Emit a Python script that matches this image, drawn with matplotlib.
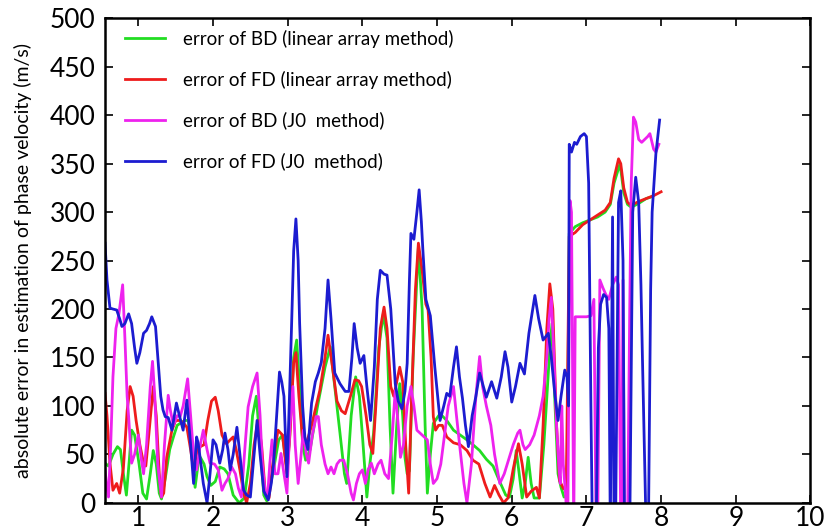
import matplotlib
matplotlib.use("Agg")
import matplotlib.pyplot as plt

plt.rcParams["font.family"] = ["Lato", "DejaVu Sans"]

# ── Data (x = frequency-ish axis, y = abs error m/s) ──
green_x = [0.554, 0.60, 0.66, 0.72, 0.76, 0.80, 0.84, 0.88, 0.91, 0.95, 1.01, 1.06, 1.11,
           1.16, 1.20, 1.24, 1.28, 1.31, 1.36, 1.42, 1.47, 1.52, 1.56, 1.62, 1.67, 1.72,
           1.76, 1.80, 1.83, 1.88, 1.92, 1.97, 2.03, 2.09, 2.15, 2.20, 2.27, 2.35, 2.42,
           2.48, 2.53, 2.58, 2.63, 2.68, 2.72, 2.80, 2.88, 2.93, 2.98, 3.02, 3.08, 3.12,
           3.16, 3.20, 3.24, 3.30, 3.40, 3.50, 3.57, 3.63, 3.70, 3.76, 3.79, 3.85, 3.91,
           3.96, 4.00, 4.06, 4.10, 4.15, 4.22, 4.28, 4.33, 4.37, 4.41, 4.46, 4.50, 4.54,
           4.57, 4.60, 4.63, 4.68, 4.75, 4.80, 4.84, 4.87, 4.91, 4.95, 5.04, 5.13, 5.22,
           5.31, 5.40, 5.48, 5.57, 5.66, 5.75, 5.85, 5.92, 5.97, 6.02, 6.06, 6.10, 6.14,
           6.18, 6.22, 6.26, 6.30, 6.37, 6.43, 6.47, 6.51, 6.54, 6.58, 6.62, 6.66, 6.70,
           6.74, 6.77, 6.85, 6.95, 7.05, 7.15, 7.25, 7.32, 7.37, 7.43, 7.45, 7.50, 7.55,
           7.60, 7.70, 7.80, 7.88]
green_y = [41, 38, 50, 58, 55, 30, 8, 45, 75, 70, 40, 10, 4,
           30, 54, 40, 10, 4, 25, 55, 68, 80, 82, 85, 85, 50,
           16, 40, 47, 40, 27, 18, 22, 37, 35, 30, 8, 0, 5,
           40, 90, 110, 60, 8, 2, 30, 65, 70, 40, 60, 150, 168,
           120, 60, 44, 55, 100, 140, 161, 120, 72, 30, 20, 90, 130,
           110, 70, 6, 40, 72, 160, 195, 170, 80, 10, 80, 123, 90,
           47, 30, 33, 150, 264, 200, 80, 10, 50, 82, 92, 85, 75,
           70, 65, 60, 54, 45, 38, 20, 8, 6, 25, 54, 30, 5,
           20, 47, 20, 5, 5, 60, 109, 160, 185, 100, 30, 16, 6,
           8, 278, 285, 289, 292, 295, 300, 308, 330, 345, 350, 320, 308,
           305, 309, 314, 316]

red_x = [0.554, 0.58, 0.62, 0.66, 0.71, 0.75, 0.80, 0.85, 0.89, 0.93, 0.97, 1.02, 1.07,
         1.10, 1.14, 1.20, 1.24, 1.28, 1.31, 1.34, 1.38, 1.45, 1.50, 1.56, 1.61, 1.65,
         1.70, 1.74, 1.79, 1.83, 1.88, 1.93, 1.98, 2.03, 2.07, 2.12, 2.18, 2.23, 2.27,
         2.31, 2.36, 2.41, 2.45, 2.50, 2.55, 2.60, 2.65, 2.70, 2.75, 2.80, 2.87, 2.93,
         2.99, 3.03, 3.08, 3.11, 3.15, 3.20, 3.24, 3.32, 3.43, 3.50, 3.54, 3.60, 3.66,
         3.72, 3.77, 3.84, 3.90, 3.95, 3.99, 4.05, 4.10, 4.14, 4.18, 4.24, 4.29, 4.33,
         4.38, 4.42, 4.46, 4.50, 4.54, 4.58, 4.62, 4.66, 4.71, 4.75, 4.80, 4.85, 4.88,
         4.92, 4.95, 4.98, 5.02, 5.07, 5.13, 5.22, 5.31, 5.40, 5.48, 5.56, 5.64, 5.71,
         5.77, 5.83, 5.89, 5.95, 6.02, 6.09, 6.14, 6.20, 6.26, 6.33, 6.37, 6.42, 6.47,
         6.51, 6.55, 6.60, 6.64, 6.69, 6.73, 6.77, 6.85, 6.95, 7.05, 7.15, 7.25, 7.32,
         7.37, 7.43, 7.46, 7.50, 7.55, 7.60, 7.70, 7.80, 7.90, 8.00]
red_y = [113, 90, 41, 13, 20, 10, 36, 95, 120, 110, 85, 60, 41,
         38, 70, 120, 90, 30, 6, 10, 47, 75, 85, 85, 82, 78,
         55, 34, 55, 58, 60, 85, 105, 109, 95, 70, 61, 65, 68,
         55, 34, 10, 0, 20, 60, 85, 60, 10, 5, 40, 75, 70,
         30, 70, 145, 155, 110, 65, 58, 80, 116, 150, 173, 140, 105,
         95, 92, 110, 127, 126, 120, 90, 60, 51, 100, 180, 202, 180,
         120, 110, 125, 140, 125, 60, 10, 110, 220, 268, 240, 205, 199,
         150, 89, 75, 80, 80, 68, 62, 60, 54, 44, 40, 20, 6,
         18, 8, 0, 5, 35, 61, 40, 6, 12, 16, 5, 80, 180,
         226, 200, 80, 23, 15, 13, 275, 279, 287, 292, 297, 302, 310,
         335, 355, 350, 325, 310, 307, 311, 314, 317, 321]

magenta_x = [0.554, 0.58, 0.60, 0.63, 0.66, 0.70, 0.74, 0.79, 0.82, 0.85, 0.87, 0.91, 0.95,
             1.00, 1.04, 1.07, 1.11, 1.16, 1.19, 1.22, 1.26, 1.31, 1.35, 1.40, 1.43, 1.47,
             1.52, 1.56, 1.60, 1.66, 1.70, 1.74, 1.78, 1.83, 1.87, 1.92, 1.96, 2.02, 2.07,
             2.12, 2.16, 2.20, 2.25, 2.30, 2.34, 2.38, 2.43, 2.47, 2.53, 2.59, 2.63, 2.66,
             2.70, 2.73, 2.76, 2.79, 2.83, 2.87, 2.91, 2.95, 2.99, 3.03, 3.07, 3.10, 3.14,
             3.18, 3.21, 3.25, 3.28, 3.33, 3.38, 3.41, 3.45, 3.50, 3.54, 3.58, 3.62, 3.66,
             3.70, 3.75, 3.80, 3.85, 3.88, 3.92, 3.96, 4.00, 4.04, 4.08, 4.12, 4.16, 4.21,
             4.25, 4.30, 4.35, 4.40, 4.44, 4.48, 4.51, 4.55, 4.60, 4.65, 4.69, 4.73, 4.80,
             4.87, 4.91, 4.95, 5.00, 5.05, 5.10, 5.15, 5.22, 5.26, 5.31, 5.36, 5.40, 5.46,
             5.52, 5.57, 5.61, 5.66, 5.72, 5.77, 5.84, 5.90, 5.96, 6.02, 6.08, 6.11, 6.15,
             6.18, 6.24, 6.30, 6.37, 6.42, 6.47, 6.50, 6.53, 6.56, 6.60, 6.63, 6.65, 6.67,
             6.69, 6.72, 6.75, 6.78, 6.80, 6.83, 6.85, 6.90, 7.00, 7.06, 7.10, 7.13, 7.15,
             7.18, 7.22, 7.26, 7.30, 7.35, 7.40, 7.43, 7.46, 7.47, 7.49, 7.51, 7.55, 7.58,
             7.60, 7.63, 7.66, 7.70, 7.74, 7.78, 7.82, 7.85, 7.90, 7.93, 7.97]
magenta_y = [34, 15, 6, 60, 130, 180, 195, 225, 170, 110, 89, 41, 50,
             70, 45, 30, 60, 120, 146, 110, 40, 6, 60, 111, 95, 80,
             90, 89, 100, 128, 90, 50, 34, 60, 75, 55, 41, 40, 34,
             13, 20, 25, 37, 30, 15, 6, 60, 99, 120, 134, 90, 41,
             10, 6, 40, 65, 30, 30, 51, 30, 10, 80, 120, 60, 20,
             50, 75, 50, 41, 70, 89, 89, 60, 40, 30, 37, 30, 40,
             44, 44, 30, 10, 3, 20, 30, 34, 20, 35, 41, 30, 40,
             44, 30, 25, 70, 116, 80, 47, 60, 100, 120, 100, 75, 70,
             65, 40, 20, 25, 40, 70, 100, 120, 90, 54, 20, 0, 40,
             110, 151, 120, 100, 80, 50, 20, 30, 45, 60, 72, 75, 60,
             55, 60, 70, 90, 110, 150, 190, 212, 160, 80, 40, 20, 100,
             40, 10, -30, 312, 300, -30, 192, 192, 192, 193, 210, -30, -30,
             230, 222, 215, 210, 225, 233, 225, -30, -30, 230, -30, -30, 200,
             330, 398, 393, 375, 372, 375, 378, 381, 365, 362, 370]

blue_x = [0.554, 0.58, 0.62, 0.66, 0.71, 0.75, 0.78, 0.82, 0.87, 0.91, 0.95, 0.98, 1.02,
          1.07, 1.11, 1.15, 1.18, 1.23, 1.27, 1.30, 1.33, 1.36, 1.40, 1.45, 1.51, 1.55,
          1.60, 1.65, 1.70, 1.74, 1.78, 1.80, 1.83, 1.87, 1.92, 1.96, 2.00, 2.04, 2.09,
          2.13, 2.16, 2.20, 2.23, 2.27, 2.32, 2.36, 2.41, 2.45, 2.50, 2.55, 2.59, 2.63,
          2.68, 2.74, 2.78, 2.81, 2.86, 2.89, 2.92, 2.95, 2.99, 3.02, 3.05, 3.08, 3.11,
          3.14, 3.16, 3.20, 3.23, 3.27, 3.32, 3.37, 3.41, 3.45, 3.50, 3.54, 3.58, 3.63,
          3.70, 3.77, 3.82, 3.86, 3.89, 3.93, 3.97, 4.02, 4.06, 4.11, 4.16, 4.20, 4.24,
          4.29, 4.33, 4.38, 4.44, 4.48, 4.53, 4.57, 4.60, 4.63, 4.65, 4.69, 4.73, 4.76,
          4.79, 4.81, 4.85, 4.91, 4.97, 5.04, 5.09, 5.13, 5.17, 5.22, 5.26, 5.30, 5.34,
          5.38, 5.42, 5.47, 5.52, 5.57, 5.62, 5.66, 5.73, 5.80, 5.86, 5.91, 5.95, 6.00,
          6.05, 6.11, 6.17, 6.23, 6.31, 6.36, 6.42, 6.49, 6.53, 6.58, 6.62, 6.66, 6.71,
          6.74, 6.76, 6.77, 6.80, 6.84, 6.87, 6.92, 6.97, 7.00, 7.03, 7.06, 7.08, 7.13,
          7.16, 7.19, 7.23, 7.27, 7.30, 7.32, 7.35, 7.37, 7.39, 7.43, 7.46, 7.49, 7.51,
          7.58, 7.62, 7.66, 7.70, 7.73, 7.75, 7.80, 7.83, 7.86, 7.88, 7.93, 7.98]
blue_y = [268, 230, 201, 200, 199, 190, 182, 185, 195, 185, 160, 144, 155,
          175, 178, 185, 192, 182, 140, 110, 96, 89, 88, 75, 103, 90,
          75, 106, 60, 20, 68, 62, 45, 20, 0, 30, 65, 60, 41,
          55, 72, 55, 34, 50, 78, 50, 13, 8, 6, 50, 85, 50,
          12, 3, 20, 40, 100, 135, 125, 110, 27, 100, 178, 260, 293,
          250, 185, 100, 68, 55, 103, 125, 134, 145, 180, 230, 190, 134,
          123, 115, 115, 150, 185, 160, 144, 152, 120, 85, 140, 210, 240,
          236, 235, 200, 123, 105, 97, 115, 144, 230, 278, 272, 300, 323,
          290, 261, 210, 193, 140, 85, 100, 113, 110, 140, 161, 130, 108,
          80, 58, 90, 110, 134, 120, 109, 125, 108, 130, 156, 140, 104,
          120, 144, 133, 175, 214, 190, 168, 175, 150, 110, 85, 110, 137,
          130, 100, 370, 362, 372, 370, 378, 381, 378, 330, 100, -30, -30,
          160, 205, 215, 212, 180, -30, 295, -30, -30, 310, 322, 250, -30,
          -30, 300, 336, 310, 225, 150, -30, -30, 220, 300, 360, 395]

labels = ["error of BD (linear array method)",
          "error of FD (linear array method)",
          "error of BD (J0  method)",
          "error of FD (J0  method)"]

fig = plt.figure(figsize=(8.27, 5.31), dpi=100)
ax = fig.add_axes([0.127, 0.053, 0.853, 0.9125])

lw = 2.0
ax.plot(green_x, green_y, color="#22dd22", lw=lw, label=labels[0])
ax.plot(red_x, red_y, color="#ee1c1c", lw=lw, label=labels[1])
ax.plot(magenta_x, magenta_y, color="#ee22ee", lw=lw, label=labels[2])
ax.plot(blue_x, blue_y, color="#1c1cd0", lw=lw, label=labels[3])

ax.set_xlim(0.554, 10)
ax.set_ylim(0, 500)
ax.set_xticks(range(1, 11))
ax.set_yticks(range(0, 501, 50))
ax.tick_params(direction="in", top=True, right=True, length=6, width=1.2,
               labelsize=19)
ax.tick_params(axis="x", pad=2)
ax.tick_params(axis="y", pad=7)
for s in ax.spines.values():
    s.set_linewidth(1.8)

ax.set_ylabel("absolute error in estimation of phase velocity (m/s)", fontsize=14)
ax.yaxis.set_label_coords(-0.103, 0.5)

ax.legend(loc="upper left", bbox_to_anchor=(0.0124, 1.0), frameon=False,
          fontsize=13.5, handlelength=2.13, handletextpad=0.96, labelspacing=1.22,
          borderaxespad=0.2)

fig.savefig("out.png", dpi=100)
